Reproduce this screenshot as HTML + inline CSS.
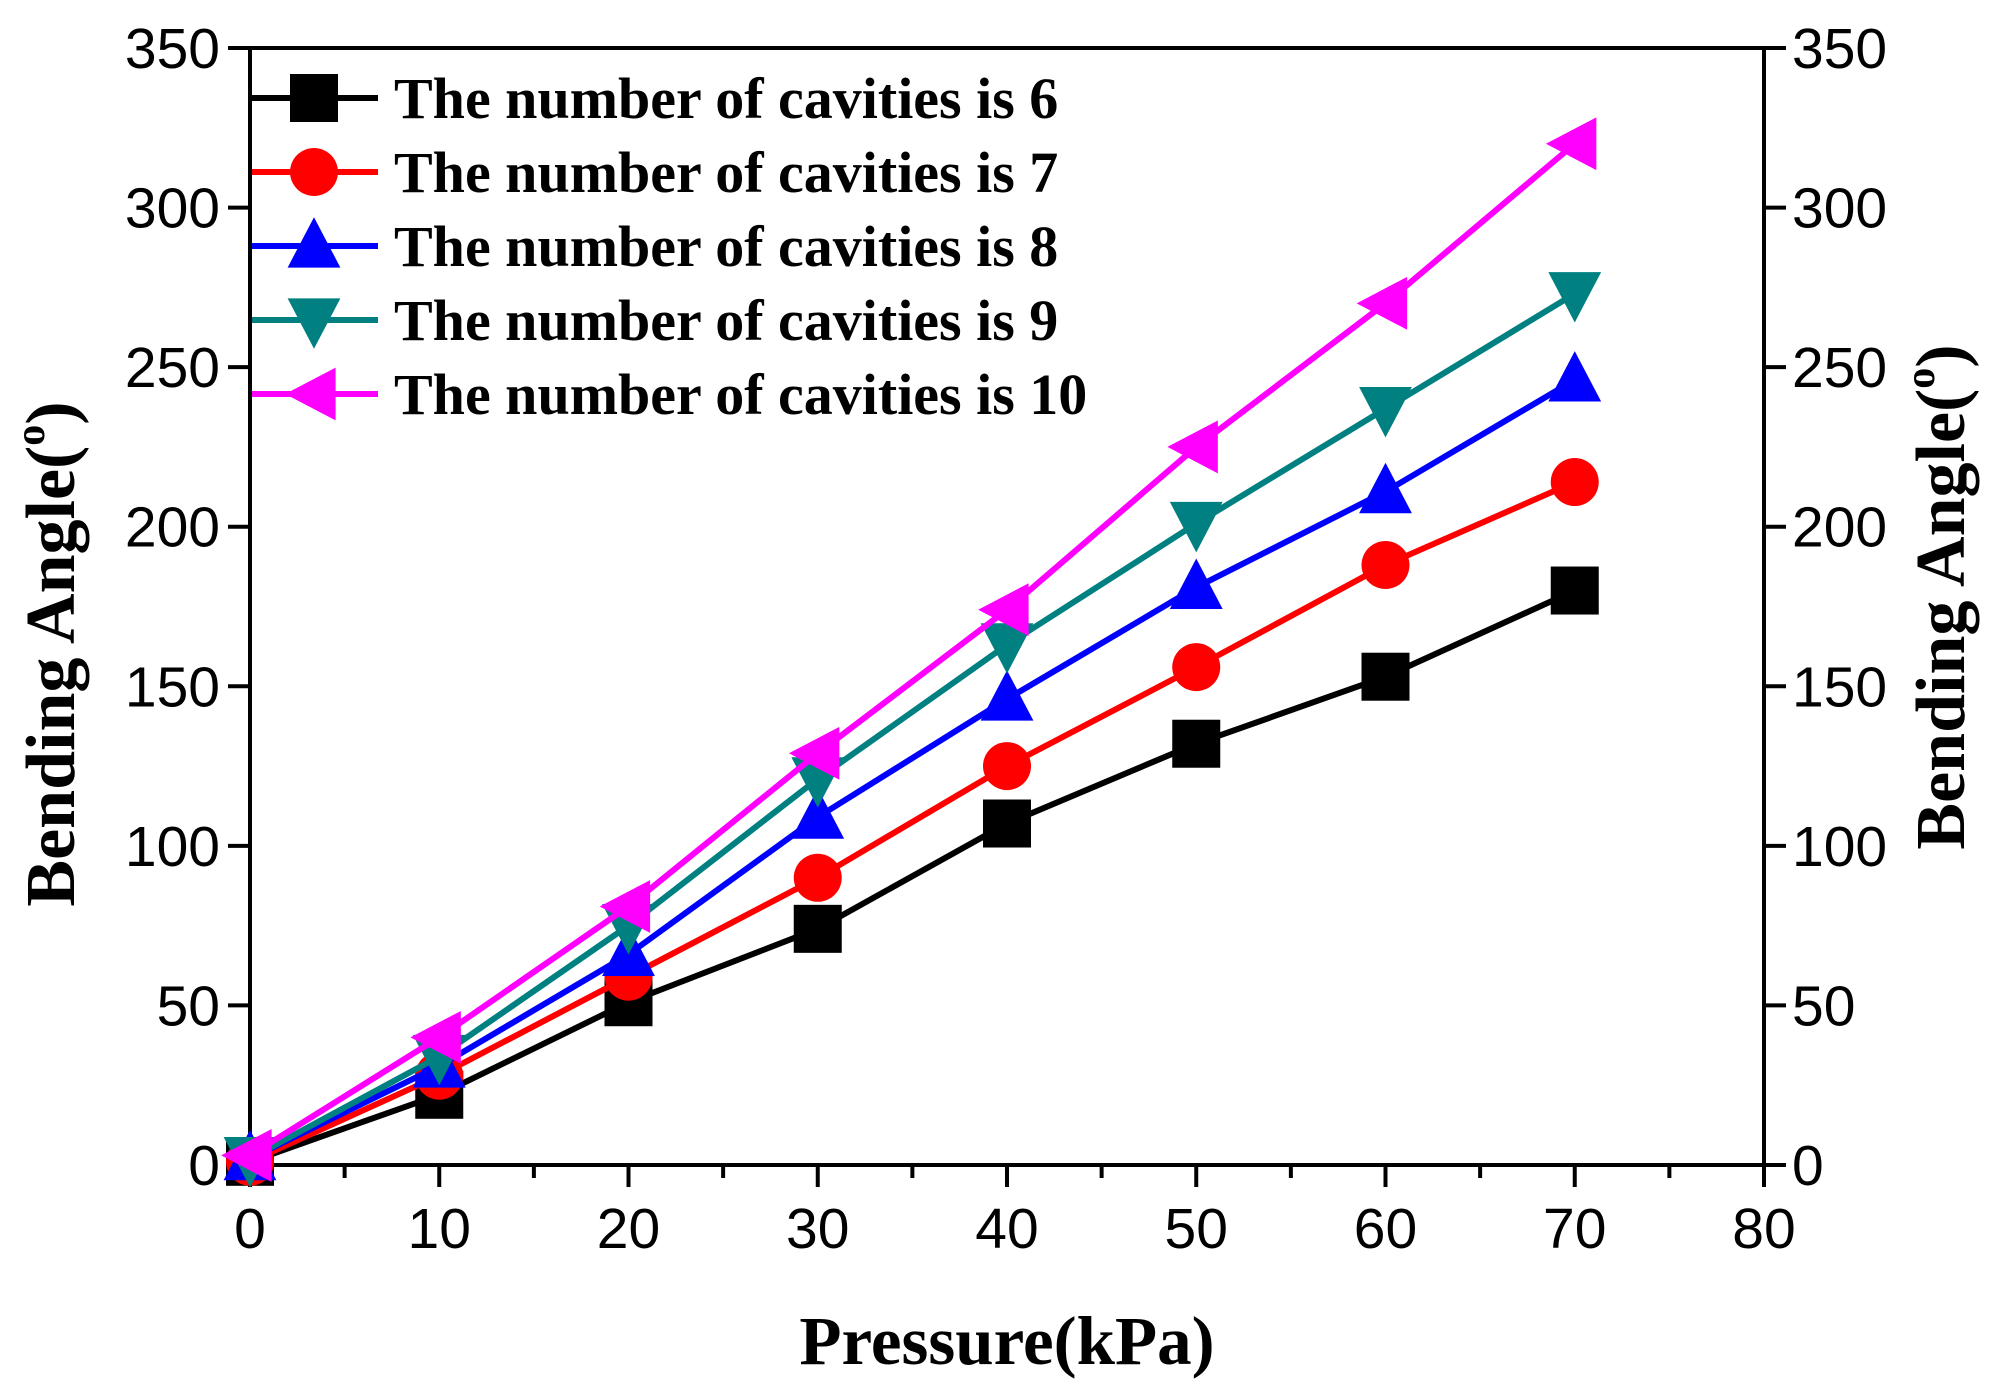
<!DOCTYPE html>
<html><head><meta charset="utf-8"><style>html,body{margin:0;padding:0;background:#fff}svg{display:block}</style></head>
<body>
<svg id="chart" width="1992" height="1389" viewBox="0 0 1992 1389" xmlns="http://www.w3.org/2000/svg"></svg>
<script>
const xValues=[0,10,20,30,40,50,60,70];
const series6=[1,22,51,74,107,132,153,180];
const series7=[1,28,59,90,125,156,188,214];
const series8=[2,31,66,109,146,181,211,246];
const series9=[2,34,75,121,163,201,237,273];
const series10=[3,40,81,129,174,225,270,320];
const xTicks=[0,10,20,30,40,50,60,70,80];
const yTicks=[0,50,100,150,200,250,300,350];
const seriesNames=["The number of cavities is 6","The number of cavities is 7","The number of cavities is 8","The number of cavities is 9","The number of cavities is 10"];

const L=250,R=1764,T=48,B=1165;
const sx=v=>L+(v-0)/80*(R-L);
const sy=v=>B-(v/350)*(B-T);
const NS="http://www.w3.org/2000/svg";
const svg=document.getElementById('chart');
function mk(tag,attrs,parent){const e=document.createElementNS(NS,tag);for(const k in attrs)e.setAttribute(k,attrs[k]);(parent||svg).appendChild(e);return e;}

const frame=mk('rect',{x:L,y:T,width:R-L,height:B-T,fill:'none',stroke:'#000','stroke-width':4});



for(let v=0;v<=80;v+=5){
  const major=v%10===0;
  const t=mk('line',{x1:sx(v),x2:sx(v),y1:B,y2:B+(major?22:13),stroke:'#000','stroke-width':4});
  
  
}
xTicks.forEach(v=>{
  const t=mk('text',{x:sx(v),y:1248,'text-anchor':'middle','font-family':'Liberation Sans, sans-serif','font-size':57});
  t.textContent=v;
  
  
});
yTicks.forEach(v=>{
  const a=mk('line',{x1:L-22,x2:L,y1:sy(v),y2:sy(v),stroke:'#000','stroke-width':4});
  
  
  const b=mk('line',{x1:R,x2:R+22,y1:sy(v),y2:sy(v),stroke:'#000','stroke-width':4});
  
  
  const c=mk('text',{x:L-30,y:sy(v)+20,'text-anchor':'end','font-family':'Liberation Sans, sans-serif','font-size':57});
  c.textContent=v;
  
  
  const d=mk('text',{x:R+28,y:sy(v)+20,'text-anchor':'start','font-family':'Liberation Sans, sans-serif','font-size':57});
  d.textContent=v;
  
  
});

const xt=mk('text',{x:1007,y:1364,'text-anchor':'middle','font-family':'Liberation Serif, serif','font-weight':'bold','font-size':69});
xt.textContent='Pressure(kPa)';


function yTitle(cx,cy,name){
  const t=mk('text',{x:0,y:0,transform:`translate(${cx},${cy}) rotate(-90)`,'text-anchor':'middle','font-family':'Liberation Serif, serif','font-weight':'bold','font-size':70});
  t.innerHTML='Bending Angle(<tspan font-size="42" dy="-30">o</tspan><tspan dy="30">)</tspan>';
  
  
}
yTitle(74,654,'y-axis-title-left');
yTitle(1964,597,'y-axis-title-right');

const colors=['#000000','#ff0000','#0000ff','#008080','#ff00ff'];
const markers=['square','circle','up','down','left'];
const allSeries=[series6,series7,series8,series9,series10];

function marker(type,x,y,c,g){
  const s=24;let e;
  if(type==='square')e=mk('rect',{x:x-s,y:y-s,width:2*s,height:2*s,fill:c},g);
  else if(type==='circle')e=mk('circle',{cx:x,cy:y,r:s,fill:c},g);
  else if(type==='up')e=mk('polygon',{points:`${x},${y-s*1.2} ${x+s*1.1},${y+s*0.9} ${x-s*1.1},${y+s*0.9}`,fill:c},g);
  else if(type==='down')e=mk('polygon',{points:`${x},${y+s*1.2} ${x+s*1.1},${y-s*0.9} ${x-s*1.1},${y-s*0.9}`,fill:c},g);
  else e=mk('polygon',{points:`${x-s*1.2},${y} ${x+s*0.9},${y-s*1.1} ${x+s*0.9},${y+s*1.1}`,fill:c},g);
  
  
}

allSeries.forEach((data,i)=>{
  const g=mk('g',{});
  
  
  const pts=data.map((v,j)=>sx(xValues[j])+','+sy(v)).join(' ');
  const pl=mk('polyline',{points:pts,fill:'none',stroke:colors[i],'stroke-width':6,'stroke-linejoin':'round'},g);
  
  
  data.forEach((v,j)=>marker(markers[i],sx(xValues[j]),sy(v),colors[i],g));
});

const lg=mk('g',{});


seriesNames.forEach((n,i)=>{
  const y=98+i*74;
  const g=mk('g',{},lg);
  
  
  mk('line',{x1:252,x2:378,y1:y,y2:y,stroke:colors[i],'stroke-width':6},g);
  marker(markers[i],314,y,colors[i],g);
  const t=mk('text',{x:394,y:y+20,'font-family':'Liberation Serif, serif','font-weight':'bold','font-size':58},g);
  t.textContent=n;
  
  
});
</script>
</body></html>
